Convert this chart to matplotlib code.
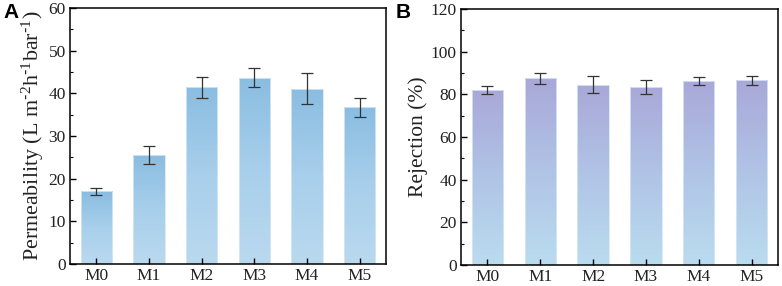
import numpy as np
import matplotlib
matplotlib.use("Agg")
import matplotlib.pyplot as plt
from matplotlib.colors import LinearSegmentedColormap
from matplotlib.ticker import MultipleLocator

plt.rcParams['font.family'] = ['Liberation Serif', 'DejaVu Serif']
plt.rcParams['mathtext.default'] = 'regular'

categories = ["M0", "M1", "M2", "M3", "M4", "M5"]
perm_values = [17.0, 25.5, 41.4, 43.7, 41.1, 36.7]
perm_errors = [0.8, 2.1, 2.4, 2.3, 3.7, 2.2]
rej_values = [82.0, 87.5, 84.5, 83.5, 86.2, 86.5]
rej_errors = [1.7, 2.7, 4.0, 3.2, 2.0, 2.2]

cmap_a = LinearSegmentedColormap.from_list("a", ["#bad9ef", "#a8cfeb", "#8abde1"])
cmap_b = LinearSegmentedColormap.from_list("b", ["#badcef", "#b0c4e6", "#a9a8d8"])

fig = plt.figure(figsize=(7.82, 2.86), dpi=100)
ax1 = fig.add_axes([70/782, 22/286, 316/782, 256/286])
ax2 = fig.add_axes([461/782, 21/286, 317/782, 256/286])


def draw(ax, vals, errs, cmap, ymax, major, minor, ylabel, lsize):
    x = np.arange(len(categories))
    bars = ax.bar(x, vals, width=0.59, color="none", edgecolor="#d6e8f5", linewidth=0.6, zorder=2)
    grad = np.linspace(0, 1, 256).reshape(-1, 1)
    for b in bars:
        x0, y0 = b.get_x(), b.get_y()
        w, h = b.get_width(), b.get_height()
        im = ax.imshow(grad, extent=[x0, x0 + w, y0, y0 + h], origin="lower",
                       cmap=cmap, aspect="auto", zorder=1)
        im.set_clip_path(b)
    ax.errorbar(x, vals, yerr=errs, fmt="none", ecolor="#333333", elinewidth=0.9,
                capsize=4, capthick=0.9, zorder=3)
    ax.set_xlim(-0.5, len(categories) - 0.5)
    ax.set_ylim(0, ymax)
    ax.set_xticks(x)
    ax.set_xticklabels(categories)
    ax.yaxis.set_major_locator(MultipleLocator(major))
    ax.yaxis.set_minor_locator(MultipleLocator(minor))
    ax.tick_params(axis="both", which="major", direction="in", length=4, width=1,
                   labelsize=12.5, colors="black", labelcolor="#222222")
    ax.tick_params(axis="y", which="minor", direction="in", length=2, width=0.8)
    ax.tick_params(axis="y", pad=3)
    ax.tick_params(axis="x", pad=3)
    for s in ax.spines.values():
        s.set_linewidth(1.1)
    ax.set_ylabel(ylabel, fontsize=lsize, labelpad=2, color="#222222")


draw(ax1, perm_values, perm_errors, cmap_a, 60, 10, 5,
     r"Permeability (L m$^{\text{-}2}$h$^{\text{-}1}$bar$^{\text{-}1}$)", 15.8)
draw(ax2, rej_values, rej_errors, cmap_b, 120, 20, 10, "Rejection (%)", 15.5)

fig.text(3/782, 1 - 18/286, "A", fontsize=15, fontweight="bold", family="Liberation Sans")
fig.text(396/782, 1 - 18/286, "B", fontsize=15, fontweight="bold", family="Liberation Sans")

fig.savefig("out.png", dpi=100)
